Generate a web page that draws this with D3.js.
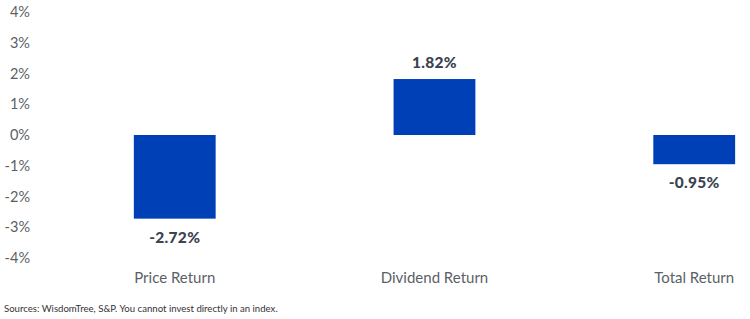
<!DOCTYPE html>
<html>
<head>
<meta charset="utf-8">
<script src="https://cdn.jsdelivr.net/npm/d3@7"></script>
<style>
  body { margin: 0; background: #fff; }
  svg { display: block; font-family: Lato, "Open Sans", sans-serif; }
</style>
</head>
<body>
<div id="chart"></div>
<script>
// ---- data ----
const categories = ["Price Return", "Dividend Return", "Total Return"];
const values = [-2.72, 1.82, -0.95];
const yTicks = [4, 3, 2, 1, 0, -1, -2, -3, -4];
const source = "Sources: WisdomTree, S&P. You cannot invest directly in an index.";

const width = 750;
const height = 319;

const svg = d3.select("#chart").append("svg")
  .attr("width", width)
  .attr("height", height);

// ---- scales ----
const x = d3.scaleBand()
  .domain(categories)
  .range([45, 745])
  .paddingInner(0.685)
  .paddingOuter(0.19)
  .align(0.9);

const y = d3.scaleLinear()
  .domain([-4, 4])
  .range([258, 12]);

// ---- y axis (labels only) ----
const yAxis = d3.axisLeft(y)
  .tickValues(yTicks)
  .tickFormat(d => d + "%")
  .tickSize(0)
  .tickPadding(0);

const yg = svg.append("g")
  .attr("transform", "translate(30,0)")
  .call(yAxis);
yg.select(".domain").remove();
yg.selectAll("text")
  .attr("fill", "#5b5f66")
  .style("font-size", "14.5px")
  .style("font-family", "Lato, sans-serif");

// ---- x axis (category labels) ----
const xAxis = d3.axisBottom(x).tickSize(0).tickPadding(0);
const xg = svg.append("g")
  .attr("transform", "translate(0,272)")
  .call(xAxis);
xg.select(".domain").remove();
xg.selectAll("text")
  .attr("fill", "#5b5f66")
  .attr("dy", "0.71em")
  .style("font-size", "15px")
  .style("font-family", "Lato, sans-serif");

// ---- bars ----
const data = categories.map((c, i) => ({ cat: c, v: values[i] }));

svg.append("g")
  .selectAll("rect")
  .data(data)
  .enter()
  .append("rect")
  .attr("x", d => x(d.cat))
  .attr("width", x.bandwidth())
  .attr("y", d => y(Math.max(0, d.v)))
  .attr("height", d => Math.abs(y(d.v) - y(0)))
  .attr("fill", "#0040b7");

// ---- value labels ----
svg.append("g")
  .selectAll("text")
  .data(data)
  .enter()
  .append("text")
  .attr("x", d => x(d.cat) + x.bandwidth() / 2)
  .attr("y", d => d.v >= 0 ? y(d.v) - 11 : y(d.v) + 24)
  .attr("text-anchor", "middle")
  .attr("fill", "#3b4250")
  .style("font-size", "15.5px")
  .style("font-weight", "900")
  .style("letter-spacing", "0.3px")
  .text(d => d.v.toFixed(2) + "%");

// ---- source ----
svg.append("text")
  .attr("x", 4)
  .attr("y", 312)
  .attr("fill", "#333")
  .style("font-size", "9.6px")
  .style("font-family", "Lato, sans-serif")
  .text(source);
</script>
</body>
</html>
